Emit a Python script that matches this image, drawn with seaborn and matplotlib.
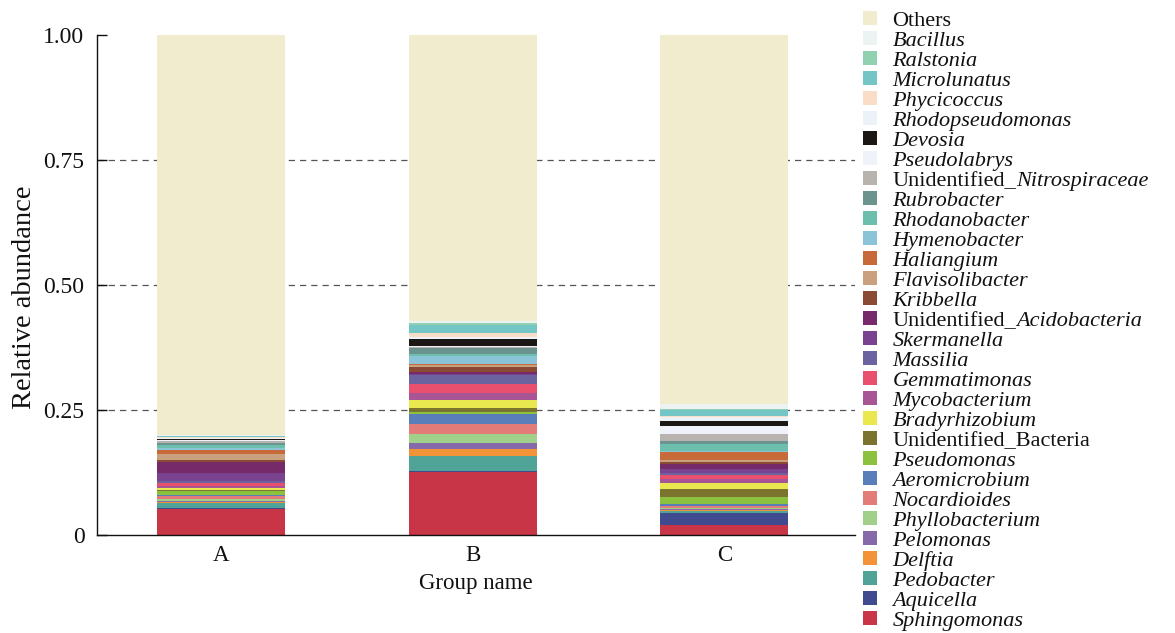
import numpy as np
import pandas as pd
import matplotlib
matplotlib.use("Agg")
import matplotlib.pyplot as plt
import seaborn as sns
from matplotlib.patches import Patch

# Sample groups
groups = ["A", "B", "C"]

# Taxa listed from the bottom of each stack upwards
taxa = [
    "Sphingomonas", "Aquicella", "Pedobacter", "Delftia", "Pelomonas",
    "Phyllobacterium", "Nocardioides", "Aeromicrobium", "Pseudomonas",
    "Unidentified_Bacteria", "Bradyrhizobium", "Mycobacterium", "Gemmatimonas",
    "Massilia", "Skermanella", "Unidentified_Acidobacteria", "Kribbella",
    "Flavisolibacter", "Haliangium", "Hymenobacter", "Rhodanobacter",
    "Rubrobacter", "Unidentified_Nitrospiraceae", "Pseudolabrys", "Devosia",
    "Rhodopseudomonas", "Phycicoccus", "Microlunatus", "Ralstonia", "Bacillus",
]

# Relative abundance of each taxon (same order as `taxa`)
abund_A = [0.052, 0.003, 0.010, 0.002, 0.002, 0.003, 0.006, 0.003, 0.008, 0.002,
           0.003, 0.004, 0.006, 0.004, 0.016, 0.023, 0.004, 0.012, 0.008, 0.003,
           0.005, 0.004, 0.004, 0.002, 0.003, 0.002, 0.001, 0.002, 0.001, 0.002]
abund_B = [0.126, 0.003, 0.029, 0.015, 0.012, 0.017, 0.021, 0.020, 0.004, 0.008,
           0.015, 0.014, 0.018, 0.018, 0.003, 0.004, 0.010, 0.003, 0.003, 0.015,
           0.004, 0.011, 0.002, 0.003, 0.014, 0.003, 0.009, 0.016, 0.004, 0.003]
abund_C = [0.020, 0.025, 0.003, 0.002, 0.002, 0.002, 0.004, 0.004, 0.015, 0.015,
           0.013, 0.007, 0.009, 0.004, 0.007, 0.010, 0.004, 0.005, 0.015, 0.002,
           0.014, 0.006, 0.014, 0.016, 0.010, 0.008, 0.002, 0.011, 0.002, 0.011]

colors = {
    "Others": "#F1ECCD",
    "Bacillus": "#EDF3F3",
    "Ralstonia": "#91D1B2",
    "Microlunatus": "#74C5C5",
    "Phycicoccus": "#FADDC6",
    "Rhodopseudomonas": "#EDF1F8",
    "Devosia": "#1B1715",
    "Pseudolabrys": "#EFF2F9",
    "Unidentified_Nitrospiraceae": "#B9B3AF",
    "Rubrobacter": "#6A948D",
    "Rhodanobacter": "#6CBFAD",
    "Hymenobacter": "#8BC3D7",
    "Haliangium": "#C8693A",
    "Flavisolibacter": "#C9A17F",
    "Kribbella": "#8B4A34",
    "Unidentified_Acidobacteria": "#772A69",
    "Skermanella": "#7A438F",
    "Massilia": "#6B63A0",
    "Gemmatimonas": "#E8506E",
    "Mycobacterium": "#A85596",
    "Bradyrhizobium": "#EAE84F",
    "Unidentified_Bacteria": "#7A742F",
    "Pseudomonas": "#8CC13D",
    "Aeromicrobium": "#5A7EB9",
    "Nocardioides": "#E37B78",
    "Phyllobacterium": "#A1D08B",
    "Pelomonas": "#8569A8",
    "Delftia": "#F39337",
    "Pedobacter": "#4FA397",
    "Aquicella": "#3F4B8E",
    "Sphingomonas": "#C83546",
}

# Long-format table; "Others" fills each sample up to 1
rows = []
for g, vals in zip(groups, [abund_A, abund_B, abund_C]):
    for t, v in zip(taxa, vals):
        rows.append((g, t, v))
    rows.append((g, "Others", 1.0 - sum(vals)))
df = pd.DataFrame(rows, columns=["group", "taxon", "value"])

# Legend order (top to bottom); the last level is stacked at the bottom
hue_order = ["Others"] + taxa[::-1]

sns.set_theme(style="ticks")
plt.rcParams["font.family"] = ["Liberation Serif", "DejaVu Serif"]

fig = plt.figure(figsize=(11.75, 6.33), dpi=100)
fig.patch.set_facecolor("white")
ax = fig.add_axes([97 / 1175, 98 / 633, (855 - 97) / 1175, 500 / 633])
ax.set_facecolor("white")

# Dashed reference lines behind the bars
for yv in [0.25, 0.5, 0.75]:
    ax.axhline(yv, color="#555555", lw=0.9, ls=(0, (5, 4)), zorder=0)

sns.histplot(
    data=df, x="group", hue="taxon", weights="value",
    hue_order=hue_order, palette=colors, multiple="stack",
    discrete=True, shrink=0.51, linewidth=0, edgecolor="none",
    alpha=1, legend=False, ax=ax, zorder=2,
)

ax.set_xlim(-0.494, 2.52)
ax.set_ylim(0, 1)
ax.set_yticks([0, 0.25, 0.5, 0.75, 1.0])
ax.set_yticklabels(["0", "0.25", "0.50", "0.75", "1.00"])
ax.tick_params(axis="y", direction="in", length=7, width=1, pad=9,
               labelsize=17, colors="#111111")
ax.tick_params(axis="x", length=0, pad=7, labelsize=16.5, colors="#111111")
ax.set_xlabel("Group name", fontsize=16.5, labelpad=5, color="#111111")
ax.set_ylabel("Relative abundance", fontsize=20.5, color="#111111")
ax.yaxis.set_label_coords(-0.079, 0.476)

for side in ["top", "right"]:
    ax.spines[side].set_visible(False)
for side in ["left", "bottom"]:
    ax.spines[side].set_color("#111111")
    ax.spines[side].set_linewidth(1.0)

# Legend: genus names in italics; "Unidentified_" prefixes stay upright
LEG_FS = 16
handles = [Patch(facecolor=colors[t], edgecolor="none") for t in hue_order]
labels = []
for t in hue_order:
    labels.append("Unidentified_" if t.startswith("Unidentified_") and t != "Unidentified_Bacteria" else t)
leg = fig.legend(
    handles, labels, loc="upper left", bbox_to_anchor=(863 / 1175, 1 - 11 / 633),
    frameon=False, fontsize=LEG_FS, handlelength=0.62, handleheight=0.6,
    handletextpad=0.7, labelspacing=0.005, borderaxespad=0, borderpad=0,
)
for t, txt in zip(hue_order, leg.get_texts()):
    txt.set_color("#111111")
    if t not in ("Others",) and not t.startswith("Unidentified_"):
        txt.set_fontstyle("italic")

# Append the italic family names after the upright prefixes
fig.canvas.draw()
renderer = fig.canvas.get_renderer()
W, H = fig.bbox.width, fig.bbox.height
for t, txt in zip(hue_order, leg.get_texts()):
    if t.startswith("Unidentified_") and t != "Unidentified_Bacteria":
        bb = txt.get_window_extent(renderer)
        bx, by = txt.get_transform().transform(txt.get_position())
        fig.text(bb.x1 / W, by / H, t.split("_", 1)[1], fontsize=LEG_FS,
                 fontstyle="italic", color="#111111", ha="left", va="baseline")

fig.savefig("out.png", dpi=100, facecolor="white")
